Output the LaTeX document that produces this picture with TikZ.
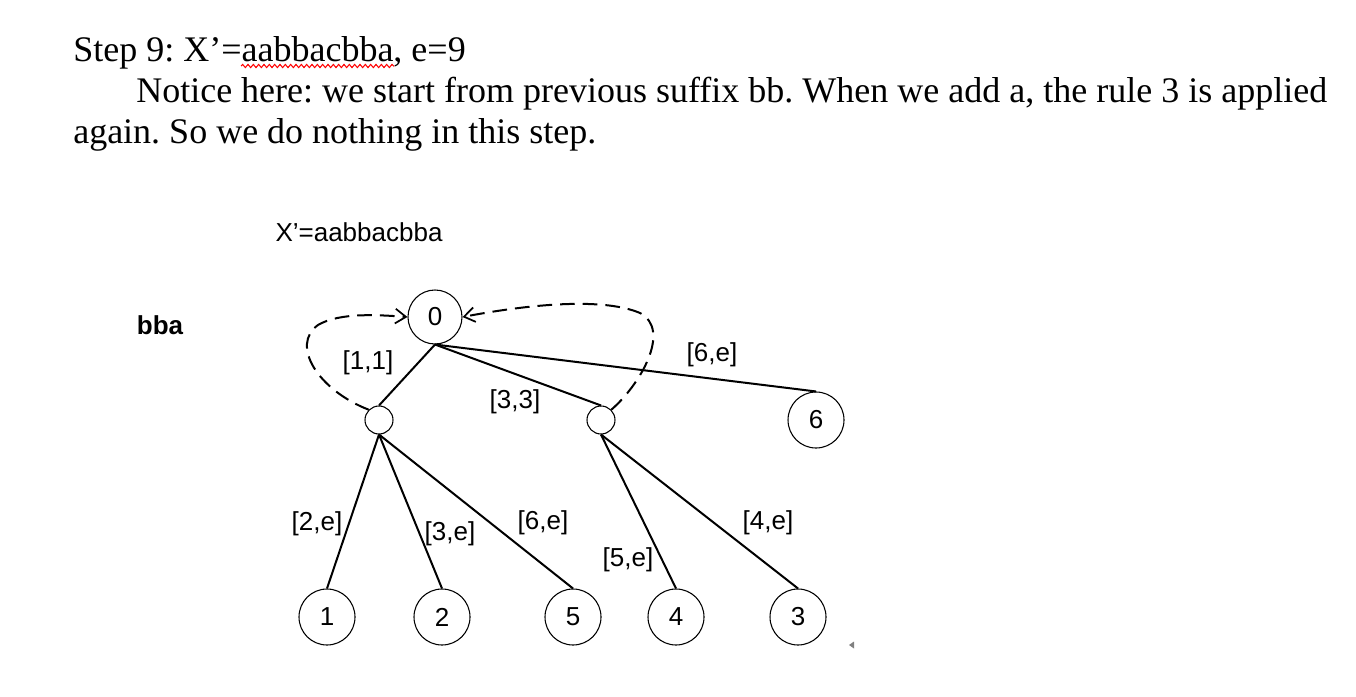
\documentclass[tikz,border=0pt]{standalone}
\usepackage{fontspec}
\setmainfont{Liberation Serif}
\newfontfamily\arialf{Liberation Sans}
\usetikzlibrary{arrows.meta,decorations.pathmorphing}
\frenchspacing
\begin{document}
\begin{tikzpicture}[x=0.75pt,y=-0.75pt,
  bignode/.style={circle,draw,line width=0.8pt,minimum size=42pt,inner sep=0pt,font=\arialf\fontsize{19.5}{22}\selectfont},
  smallnode/.style={circle,draw,line width=0.8pt,minimum size=21pt,inner sep=0pt},
  edge/.style={line width=1.5pt},
  lbl/.style={font=\arialf\fontsize{19.5}{22}\selectfont,inner sep=0pt},
  link/.style={line width=1.5pt,dash pattern=on 11pt off 6pt,-{Straight Barb[length=8pt,width=11pt,line width=1.3pt]}},
  body/.style={font=\fontsize{27}{30}\selectfont,inner sep=0pt,anchor=base west}]
\useasboundingbox (0,0) rectangle (1356,696);
% text
\node[body] (t1) at (73,61) {Step 9: X’=aabbacbba, e=9};
\node[body] (t2) at (136,102) {Notice here: we start from previous suffix bb. When we add a, the rule 3 is applied};
\node[body] (t3) at (73,143) {again. So we do nothing in this step.};
\draw[red,line width=0.8pt,decorate,decoration={snake,amplitude=1.2pt,segment length=4pt}] (241,66) -- (394,66);
% diagram labels
\node[lbl] (title) at (359,232) {X’=aabbacbba};
\node[lbl,font=\arialf\bfseries\fontsize{19.5}{22}\selectfont] (bba) at (160,325) {bba};
% nodes
\node[bignode,minimum size=40.5pt] (n0) at (435,317) {0};
\node[smallnode] (a) at (379,420) {};
\node[smallnode] (b) at (601,420) {};
\node[bignode] (n6) at (816,420) {6};
\node[bignode] (n1) at (327,617) {1};
\node[bignode] (n2) at (442,617) {2};
\node[bignode] (n5) at (573,617) {5};
\node[bignode] (n4) at (676,617) {4};
\node[bignode] (n3) at (798,617) {3};
% edges
\draw[edge] (n0.south) -- (a.north);
\draw[edge] (n0.south) -- (b.north);
\draw[edge] (n0.south) -- (n6.north);
\draw[edge] (a.south) -- (n1.north);
\draw[edge] (a.south) -- (n2.north);
\draw[edge] (a.south) -- (n5.north);
\draw[edge] (b.south) -- (n4.north);
\draw[edge] (b.south) -- (n3.north);
% edge labels
\node[lbl] (l11) at (368,363) {[1,1]};
\node[lbl] (l33) at (515,402) {[3,3]};
\node[lbl] (l6e) at (712,355) {[6,e]};
\node[lbl] (l2e) at (317,524) {[2,e]};
\node[lbl] (l3e) at (450,534) {[3,e]};
\node[lbl] (l6e2) at (543,523) {[6,e]};
\node[lbl] (l5e) at (628,560) {[5,e]};
\node[lbl] (l4e) at (768,523) {[4,e]};
% suffix links
\draw[link] (a.north west) .. controls (318,390) and (290,345) .. (318,325) .. controls (340,312) and (380,315) .. (n0.west);
\draw[link] (b.north east) .. controls (640,385) and (672,330) .. (640,313) .. controls (600,296) and (520,306) .. (n0.east);
% small marker
\fill[gray] (849,645) -- (854,641.5) -- (854,648.5) -- cycle;
\end{tikzpicture}
\end{document}
